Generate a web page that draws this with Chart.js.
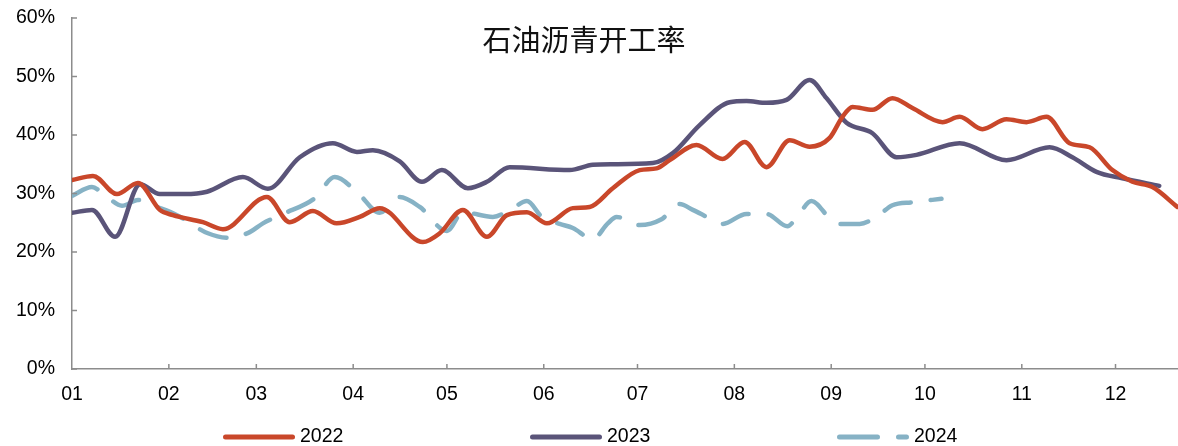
<!DOCTYPE html>
<html><head><meta charset="utf-8">
<script src="https://cdn.jsdelivr.net/npm/chart.js@4/dist/chart.umd.min.js"></script>
<style>html,body{margin:0;padding:0;background:#fff}#wrap{width:1178px;height:446px}</style>
</head><body><div id="wrap"><canvas id="c" width="1178" height="446"></canvas></div>
<script>
const chartTitle = '石油沥青开工率';
const monthLabels = ['01','02','03','04','05','06','07','08','09','10','11','12'];
const monthStartDays = [0,31,59,90,120,151,181,212,243,273,304,334];
const yTicks = [0,10,20,30,40,50,60];
const seriesNames = ['2022','2023','2024'];
const seriesColors = ['#C9472A','#5A5479','#86B2C5'];

const days2022 = [0,6.7,14.4,21.1,28.1,32.3,41.9,48.3,62.4,69.7,77.1,84.7,92.1,98.5,112.3,117.7,125.1,132.8,139.2,145.6,152.0,160.3,165.7,173.1,181.7,187.1,191.3,199.9,208.2,215.3,222.3,229.7,236.1,242.5,246.6,249.8,256.2,262.6,269.0,278.6,284.1,291.4,299.1,305.5,311.9,319.3,325.7,333.0,339.4,345.8,353.8];
const values2022 = [32.3,33.0,29.9,31.8,27.2,26.3,25.1,23.9,29.4,25.1,27.0,24.9,26.0,27.5,21.7,23.2,27.2,22.6,26.3,26.8,24.9,27.5,27.7,30.9,34.0,34.3,35.7,38.3,35.9,38.8,34.5,39.1,38.0,39.5,43.1,44.8,44.3,46.3,44.6,42.2,43.1,41.0,42.7,42.2,43.1,38.6,37.9,34.0,32.0,31.1,27.7];

const days2023 = [0,6.4,13.8,21.8,28.1,36.1,43.2,54.7,62.7,72.9,83.5,91.2,96.3,104.9,112.0,118.4,126.7,132.8,140.1,159.3,166.7,173.1,185.9,192.3,200.9,210.5,215.9,222.3,228.7,236.1,241.5,247.9,256.2,263.9,270.3,284.1,299.1,312.9,320.2,327.9,336.2,348.0];
const values2023 = [26.7,27.2,22.6,31.6,29.9,29.9,30.3,32.8,30.8,36.2,38.6,37.1,37.4,35.5,32.0,34.0,30.9,32.0,34.5,34.0,34.9,35.0,35.2,36.9,41.7,45.6,45.8,45.5,46.0,49.4,46.3,42.1,40.3,36.2,36.6,38.6,35.7,37.9,36.2,33.7,32.6,31.3];

const days2024 = [0,6.4,10.6,16.0,21.1,27.2,33.6,43.5,50.5,56.9,61.1,67.5,77.7,84.1,91.5,98.5,104.9,111.3,120.0,125.1,134.7,141.1,145.6,150.4,156.1,160.3,166.7,171.5,174.3,181.7,188.7,194.5,198.7,204.7,208.2,215.9,222.3,229.0,232.2,236.7,242.5,245.7,252.1,257.5,262.6,269.0,278.3];
const values2024 = [29.6,31.1,29.7,27.9,28.9,27.7,26.3,23.2,22.4,23.4,24.9,26.5,29.2,32.8,30.1,26.7,29.4,27.7,23.6,26.8,26.0,27.5,28.7,26.0,24.8,24.1,22.2,24.9,26.0,24.6,25.6,28.2,27.2,25.6,24.8,26.5,26.5,24.4,26.1,28.7,25.8,24.8,24.8,26.0,28.0,28.5,29.1];

const toPts = (d, v) => d.map((x, i) => ({x, y: v[i]}));
const axisColor = '#8c8c8c';
const labelFont = {family: '"Liberation Sans", Arial, sans-serif', size: 19.5};

const decor = {
  id: 'decor',
  afterDraw(chart) {
    const {ctx, chartArea: a, scales: {x, y}} = chart;
    ctx.save();
    ctx.strokeStyle = axisColor; ctx.lineWidth = 1.5;
    yTicks.forEach(v => {
      const py = y.getPixelForValue(v);
      ctx.beginPath(); ctx.moveTo(a.left, py); ctx.lineTo(a.left + 5, py); ctx.stroke();
    });
    monthStartDays.slice(1).forEach(d => {
      const px = x.getPixelForValue(d);
      ctx.beginPath(); ctx.moveTo(px, a.bottom); ctx.lineTo(px, a.bottom - 5); ctx.stroke();
    });
    // title
    ctx.fillStyle = '#111';
    ctx.font = '29px "Noto Sans CJK SC"';
    ctx.textAlign = 'center'; ctx.textBaseline = 'middle';
    ctx.fillText(chartTitle, chart.width / 2 - 5, 40);
    // legend
    const ly = 437;
    ctx.font = '19.5px "Liberation Sans", Arial, sans-serif';
    ctx.textAlign = 'left';
    chart.data.datasets.forEach((ds, i) => {
      const sx = chart.width / 2 - 59 + (i - 1) * 307;
      ctx.strokeStyle = ds.borderColor; ctx.lineWidth = 5; ctx.lineCap = 'round';
      ctx.setLineDash(ds.borderDash && ds.borderDash.length ? [38, 21] : []);
      ctx.beginPath(); ctx.moveTo(sx + 2.5, ly); ctx.lineTo(sx + 69.5, ly); ctx.stroke();
      ctx.setLineDash([]);
      ctx.fillStyle = '#000';
      ctx.fillText(ds.label, sx + 77, ly);
    });
    ctx.restore();
  }
};

new Chart(document.getElementById('c'), {
  type: 'line',
  data: {
    datasets: [
      {label: seriesNames[0], data: toPts(days2022, values2022), borderColor: seriesColors[0], borderWidth: 4.5, pointRadius: 0, cubicInterpolationMode: 'monotone', borderCapStyle: 'round', borderJoinStyle: 'round'},
      {label: seriesNames[1], data: toPts(days2023, values2023), borderColor: seriesColors[1], borderWidth: 4.5, pointRadius: 0, cubicInterpolationMode: 'monotone', borderCapStyle: 'round', borderJoinStyle: 'round'},
      {label: seriesNames[2], data: toPts(days2024, values2024), borderColor: seriesColors[2], borderWidth: 4.5, pointRadius: 0, cubicInterpolationMode: 'monotone', borderCapStyle: 'round', borderJoinStyle: 'round', borderDash: [28, 20]}
    ]
  },
  options: {
    responsive: false, animation: false, devicePixelRatio: 1,
    layout: {padding: {top: 18, left: 0, right: 0, bottom: 0}},
    plugins: {legend: {display: false}, title: {display: false}, tooltip: {enabled: false}},
    scales: {
      x: {
        type: 'linear', min: 0, max: 354,
        afterBuildTicks: s => { s.ticks = monthStartDays.map(v => ({value: v})); },
        afterFit: s => { s.height = 77; },
        ticks: {callback: (v, i) => monthLabels[i], autoSkip: false, maxRotation: 0, padding: 14, font: labelFont, color: '#000'},
        grid: {display: true, drawOnChartArea: false, drawTicks: false},
        border: {display: true, color: axisColor, width: 1.5}
      },
      y: {
        min: 0, max: 60,
        afterBuildTicks: s => { s.ticks = yTicks.map(v => ({value: v})); },
        afterFit: s => { s.width = 72; s.paddingTop = 0; s.paddingBottom = 0; },
        ticks: {callback: v => v + '%', padding: 17, font: labelFont, color: '#000'},
        grid: {display: true, drawOnChartArea: false, drawTicks: false},
        border: {display: true, color: axisColor, width: 1.5}
      }
    }
  },
  plugins: [decor]
});
</script>
</body></html>
